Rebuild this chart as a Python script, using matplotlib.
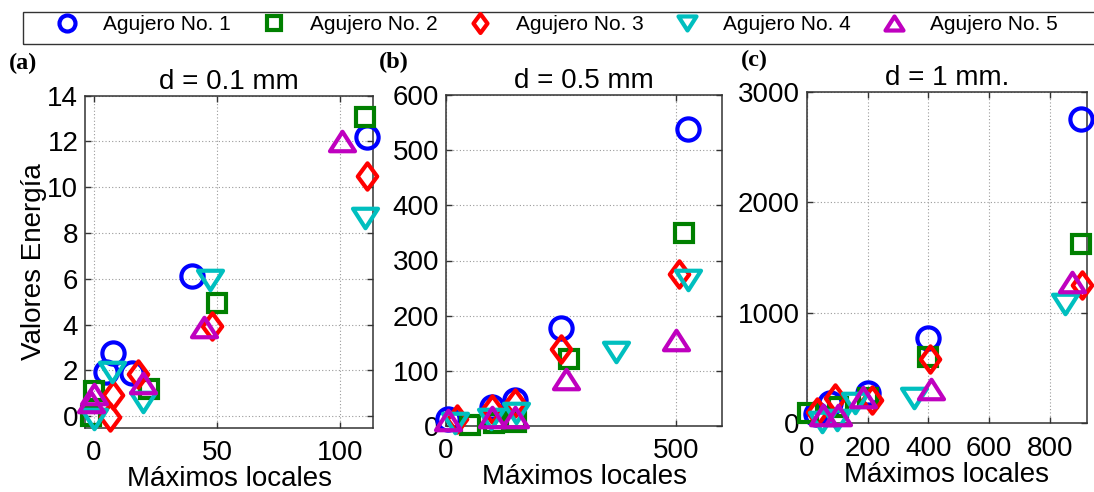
import matplotlib
matplotlib.use("Agg")
import matplotlib.pyplot as plt
from matplotlib.path import Path
from matplotlib.lines import Line2D
from matplotlib.patches import Rectangle

plt.rcParams['font.family'] = ['Liberation Sans', 'DejaVu Sans']

# ---------------- data ----------------
labels = ['Agujero No. 1', 'Agujero No. 2', 'Agujero No. 3', 'Agujero No. 4', 'Agujero No. 5']
panel_titles = ['d = 0.1 mm', 'd = 0.5 mm', 'd = 1 mm.']
panel_tags = ['(a)', '(b)', '(c)']
xlabel = 'Máximos locales'
ylabel = 'Valores Energía'

# panel (a): d = 0.1 mm
a1_x = [5, 8, 15.5, 40, 111];      a1_y = [1.94, 2.77, 1.87, 6.1, 12.2]
a2_x = [-1, 0, 22.5, 50, 110];     a2_y = [0.0, 1.1, 1.2, 4.93, 13.07]
a3_x = [6.6, 8, 18, 47.8, 111];    a3_y = [-0.03, 0.92, 1.85, 3.95, 10.5]
a4_x = [0, 7.5, 20, 47, 110];      a4_y = [-0.13, 1.91, 0.6, 5.95, 8.65]
a5_x = [0, -1, 20, 44.7, 100.8];   a5_y = [0.95, 0.6, 1.43, 3.91, 12.0]

# panel (b): d = 0.5 mm
b1_x = [5, 99, 151, 251, 525];     b1_y = [12, 35, 47, 177, 539]
b2_x = [52, 104, 153, 267, 518];   b2_y = [2, 5, 8, 121, 350]
b3_x = [23, 99, 150, 251, 507];    b3_y = [12, 30, 41, 140, 276]
b4_x = [20, 97, 153, 370, 525];    b4_y = [5, 12, 23, 135, 265]
b5_x = [5, 99, 150, 261, 500];     b5_y = [11, 17, 17, 85, 155]

# panel (c): d = 1 mm
c1_x = [30, 77, 203, 400, 900];    c1_y = [80, 178, 269, 767, 2750]
c2_x = [5, 104, 200, 397, 900];    c2_y = [88, 148, 230, 600, 1625]
c3_x = [33, 93, 214, 406, 905];    c3_y = [100, 224, 208, 577, 1250]
c4_x = [50, 100, 160, 351, 850];   c4_y = [10, 30, 178, 224, 1080]
c5_x = [52, 102, 186, 408, 872];   c5_y = [70, 75, 235, 305, 1280]

xlims = [(-3.4, 113.3), (0, 600), (0, 920)]
ylims = [(-0.5, 14), (0, 600), (0, 3000)]
xticks = [[0, 50, 100], [0, 500], [0, 200, 400, 600, 800]]
yticks = [list(range(0, 15, 2)), list(range(0, 601, 100)), [0, 1000, 2000, 3000]]

# ---------------- styles ----------------
colors = ['#0000ff', '#008000', '#ff0000', '#00bfbf', '#bf00bf']
diamond = Path([(0, 1), (0.74, 0), (0, -1), (-0.74, 0), (0, 1)], closed=True)
tri_up = Path([(0, 0.78), (1, -0.78), (-1, -0.78), (0, 0.78)], closed=True)
tri_dn = Path([(0, -0.78), (1, 0.78), (-1, 0.78), (0, -0.78)], closed=True)
markers = ['o', 's', diamond, tri_dn, tri_up]
msizes = [16, 13.5, 19, 18, 18]

W, H = 1094, 492
fig = plt.figure(figsize=(W / 100, H / 100), dpi=100)

# axes rectangles in pixels: left, right, top, bottom
boxes = [(85.3, 373.0, 95.5, 427.7), (446.0, 722.0, 95.0, 426.0), (806.7, 1086.7, 91.7, 423.0)]
tag_pos = [(9, 53), (379, 52), (741, 50)]

panels = [
    [(a1_x, a1_y), (a2_x, a2_y), (a3_x, a3_y), (a4_x, a4_y), (a5_x, a5_y)],
    [(b1_x, b1_y), (b2_x, b2_y), (b3_x, b3_y), (b4_x, b4_y), (b5_x, b5_y)],
    [(c1_x, c1_y), (c2_x, c2_y), (c3_x, c3_y), (c4_x, c4_y), (c5_x, c5_y)],
]

for p, (l, r, t, b) in enumerate(boxes):
    ax = fig.add_axes([l / W, 1 - b / H, (r - l) / W, (b - t) / H])
    for s, (xs, ys) in enumerate(panels[p]):
        ax.plot(xs, ys, linestyle='none', marker=markers[s], markersize=msizes[s],
                markerfacecolor='none', markeredgecolor=colors[s], markeredgewidth=3,
                clip_on=False, zorder=3 + s * 0.01)
    ax.set_xlim(*xlims[p])
    ax.set_ylim(*ylims[p])
    ax.set_xticks(xticks[p])
    ax.set_yticks(yticks[p])
    ax.grid(True, color='#9a9a9a', linestyle=(0, (1, 2)), linewidth=0.8)
    ax.set_axisbelow(True)
    ax.tick_params(direction='in', top=True, right=True, length=4, width=1,
                   labelsize=20, colors='#333333', labelcolor='black')
    ax.tick_params(axis='x', pad=9)
    ax.tick_params(axis='y', pad=5)
    for sp in ax.spines.values():
        sp.set_color('#333333')
        sp.set_linewidth(1.1)
    ax.set_title(panel_titles[p], fontsize=20, pad=5)
    ax.set_xlabel(xlabel, fontsize=20, labelpad=0)
    if p == 0:
        ax.set_ylabel(ylabel, fontsize=20, labelpad=0)
    fig.text(tag_pos[p][0] / W, 1 - tag_pos[p][1] / H, panel_tags[p],
             fontsize=17.5, fontweight='bold', family='Liberation Serif',
             ha='left', va='top')

# legend
handles = [Line2D([], [], linestyle='none', marker=markers[i], markersize=msizes[i],
                  markerfacecolor='none', markeredgecolor=colors[i], markeredgewidth=3)
           for i in range(5)]
fig.legend(handles, labels, loc='upper left', bbox_to_anchor=(54.5 / W, 1 - 15.5 / H),
           ncol=5, frameon=False, fontsize=15, handlelength=1.2, handletextpad=1.13,
           columnspacing=1.46, borderpad=0, borderaxespad=0, markerscale=0.72)
fig.patches.append(Rectangle((22.7 / W, 1 - 44 / H), 1.2, 32 / H, transform=fig.transFigure,
                             fill=False, edgecolor='#333333', linewidth=1.0))

fig.savefig('out.png', dpi=100)
